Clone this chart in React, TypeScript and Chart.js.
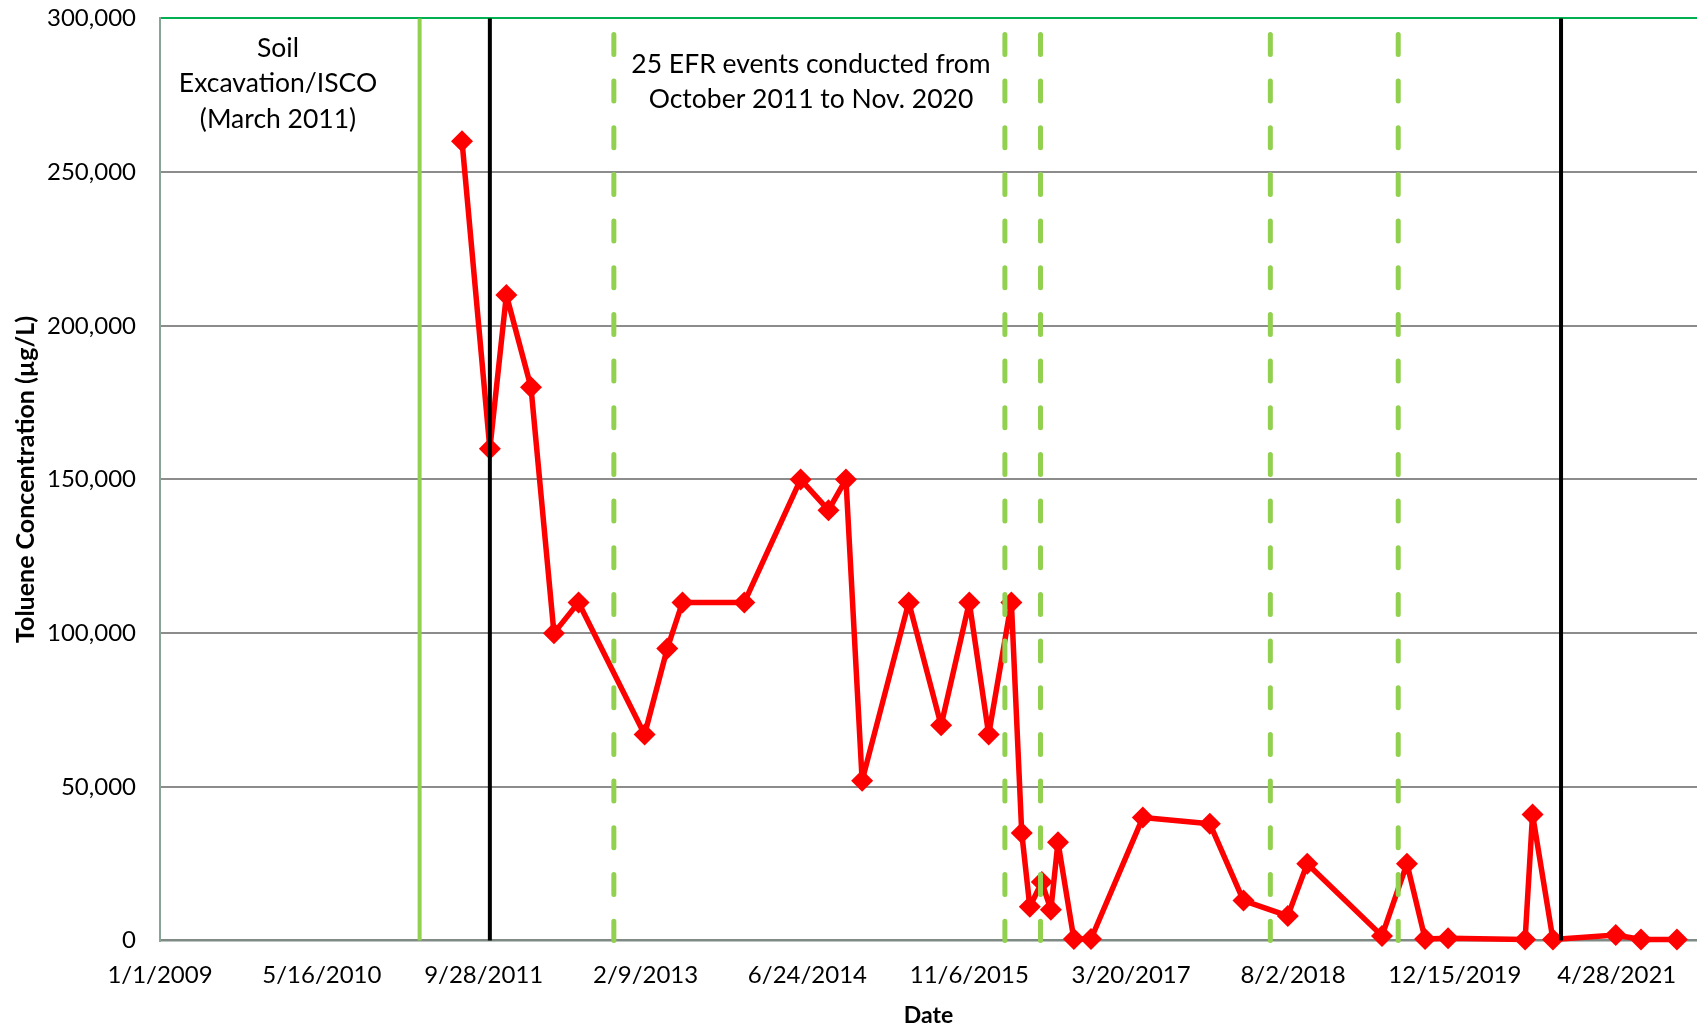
import React, { useEffect, useRef } from 'react';
import { Chart, registerables } from 'chart.js';

Chart.register(...registerables);

// ---- Data ----
const sampleDates = [
  '7/23/2011', '10/17/2011', '12/7/2011', '2/21/2012', '5/2/2012', '7/17/2012',
  '2/6/2013', '4/17/2013', '6/3/2013', '12/11/2013', '6/3/2014', '8/28/2014',
  '10/21/2014', '12/10/2014', '5/3/2015', '8/11/2015', '11/6/2015', '1/5/2016',
  '3/15/2016', '4/16/2016', '5/11/2016', '6/17/2016', '7/15/2016', '8/6/2016',
  '9/24/2016', '11/16/2016', '4/25/2017', '11/18/2017', '3/2/2018', '7/17/2018',
  '9/15/2018', '5/4/2019', '7/20/2019', '9/14/2019', '11/24/2019', '7/19/2020',
  '8/11/2020', '10/13/2020', '4/25/2021', '7/12/2021', '10/31/2021',
];
const tolueneUgL = [
  260000, 160000, 210000, 180000, 100000, 110000,
  67000, 95000, 110000, 110000, 150000, 140000,
  150000, 52000, 110000, 70000, 110000, 67000,
  110000, 35000, 11000, 19000, 10000, 32000,
  500, 500, 40000, 38000, 13000, 8000,
  25000, 1500, 25000, 500, 700, 300,
  41000, 300, 1800, 300, 300,
];

const axisStartDate = '1/1/2009';
const axisEndDate = '1/1/2022';
const xTickStepDays = 500;
const yMax = 300000;
const yStep = 50000;

const iscoDates = ['3/14/2011'];
const efrPeriodBounds = ['10/17/2011', '11/7/2020'];
const efrEventMarkers = ['11/3/2012', '2/24/2016', '6/13/2016', '5/24/2018', '6/23/2019'];

const iscoLabel = ['Soil', 'Excavation/ISCO', '(March 2011)'];
const efrLabel = ['25 EFR events conducted from', 'October 2011 to Nov. 2020'];
const yAxisTitle = 'Toluene Concentration (\u00b5g/L)';
const xAxisTitle = 'Date';

// ---- helpers ----
const DAY = 86400000;
const parseDate = (s: string) => {
  const [m, d, y] = s.split('/').map(Number);
  return Date.UTC(y, m - 1, d);
};
const ORIGIN = parseDate(axisStartDate);
const toDay = (s: string) => Math.round((parseDate(s) - ORIGIN) / DAY);
const fmtDay = (v: number) => {
  const dt = new Date(ORIGIN + v * DAY);
  return `${dt.getUTCMonth() + 1}/${dt.getUTCDate()}/${dt.getUTCFullYear()}`;
};

const FONT = 'Lato, "Noto Sans", sans-serif';

const overlayPlugin = {
  id: 'overlay',
  afterDatasetsDraw(chart: any) {
    const { ctx, chartArea, scales } = chart;
    const x = scales.x;
    const drawV = (day: number, color: string, width: number, dash: number[] | null, y0: number) => {
      const px = x.getPixelForValue(day);
      ctx.save();
      ctx.beginPath();
      ctx.strokeStyle = color;
      ctx.lineWidth = width;
      if (dash) {
        ctx.setLineDash(dash);
        ctx.lineCap = 'round';
      }
      ctx.moveTo(px, y0);
      ctx.lineTo(px, chartArea.bottom);
      ctx.stroke();
      ctx.restore();
    };
    iscoDates.forEach((d) => drawV(toDay(d), '#92D050', 4, null, chartArea.top));
    efrEventMarkers.forEach((d) => drawV(toDay(d), '#92D050', 5, [20, 26.67], chartArea.top + 16));
    efrPeriodBounds.forEach((d) => drawV(toDay(d), '#000000', 4, null, chartArea.top));
  },
  afterDraw(chart: any) {
    const { ctx } = chart;
    ctx.save();
    ctx.fillStyle = '#000';
    ctx.font = `26.5px ${FONT}`;
    ctx.textAlign = 'center';
    ctx.textBaseline = 'middle';
    iscoLabel.forEach((t, i) => ctx.fillText(t, 278, 48 + i * 35.5));
    efrLabel.forEach((t, i) => ctx.fillText(t, 811, 64 + i * 35.5));
    ctx.restore();
  },
};

export default function App() {
  const ref = useRef<HTMLCanvasElement>(null);
  useEffect(() => {
    if (!ref.current) return;
    const points = sampleDates.map((d, i) => ({ x: toDay(d), y: tolueneUgL[i] }));
    const xMax = toDay(axisEndDate);
    const chart = new Chart(ref.current, {
      type: 'line',
      data: {
        datasets: [
          {
            data: points,
            borderColor: '#FF0000',
            backgroundColor: '#FF0000',
            borderWidth: 5.5,
            borderJoinStyle: 'round',
            borderCapStyle: 'round',
            pointStyle: 'rectRot',
            pointRadius: 11,
            pointBorderWidth: 0,
            pointBackgroundColor: '#FF0000',
            tension: 0,
            clip: false,
          } as any,
        ],
      },
      options: {
        responsive: false,
        animation: false,
        layout: { autoPadding: false, padding: { top: 18.4, left: 0, right: 0, bottom: 0 } },
        plugins: { legend: { display: false }, tooltip: { enabled: false } },
        scales: {
          x: {
            type: 'linear',
            min: 0,
            max: xMax,
            afterBuildTicks: (scale: any) => {
              const t: any[] = [];
              for (let v = 0; v < xMax; v += xTickStepDays) t.push({ value: v });
              scale.ticks = t;
            },
            afterFit: (scale: any) => {
              scale.height = 89.5;
              scale.paddingLeft = 0;
              scale.paddingRight = 0;
            },
            ticks: {
              autoSkip: false,
              maxRotation: 0,
              minRotation: 0,
              padding: 2,
              color: '#000',
              font: { family: FONT, size: 24 },
              callback: (v: any) => fmtDay(Number(v)),
            },
            grid: {
              display: true,
              drawOnChartArea: false,
              drawTicks: true,
              tickLength: 18,
              color: 'rgba(0,0,0,0)',
              tickColor: 'rgba(0,0,0,0)',
            },
            border: { display: true, color: '#7f8a84', width: 2.5 },
            title: {
              display: true,
              text: xAxisTitle,
              color: '#000',
              font: { family: FONT, size: 23, weight: 'bold' },
              padding: { top: 0, bottom: 1 },
            },
          },
          y: {
            min: 0,
            max: yMax,
            afterFit: (scale: any) => {
              scale.width = 160;
            },
            ticks: {
              stepSize: yStep,
              padding: 4,
              color: '#000',
              font: { family: FONT, size: 24 },
              callback: (v: any) => Number(v).toLocaleString('en-US'),
            },
            grid: {
              drawTicks: true,
              tickLength: 20,
              tickColor: 'rgba(0,0,0,0)',
              lineWidth: 2,
              color: (c: any) =>
                c.tick && c.tick.value === yMax ? '#00B050' : c.tick && c.tick.value === 0 ? 'rgba(0,0,0,0)' : '#8c8c8c',
            },
            border: { display: true, color: '#86a596', width: 2 },
            title: {
              display: true,
              text: yAxisTitle,
              color: '#000',
              font: { family: FONT, size: 25, weight: 'bold' },
              padding: { top: 11, bottom: 0 },
            },
          },
        },
      },
      plugins: [overlayPlugin],
    });
    return () => chart.destroy();
  }, []);
  return (
    <div style={{ position: 'absolute', left: 0, top: 0, width: 1697, height: 1030, background: '#fff' }}>
      <canvas ref={ref} width={1697} height={1030} style={{ display: 'block' }} />
    </div>
  );
}
